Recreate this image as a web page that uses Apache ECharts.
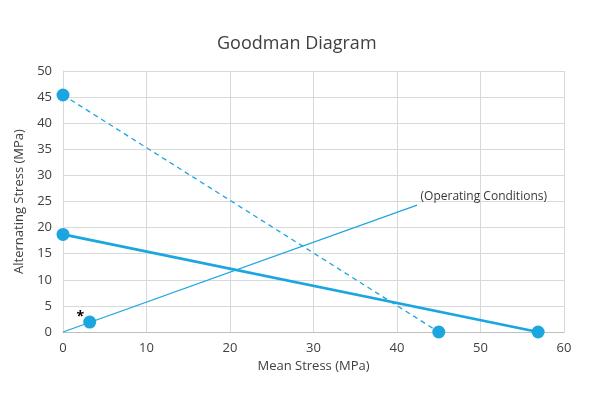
<!DOCTYPE html>
<html><head><meta charset="utf-8">
<script src="https://cdn.jsdelivr.net/npm/echarts@6/dist/echarts.min.js"></script>
<style>html,body{margin:0;padding:0;background:#fff}#c{width:600px;height:395px}</style>
</head><body><div id="c"></div>
<script>
const goodmanLine = [[0, 18.7], [56.9, 0]];
const yieldLine = [[0, 45.4], [45, 0]];
const operatingLine = [[0, 0], [42.4, 24.3]];
const operatingPoint = [[3.2, 1.9]];
const xTicks = {min: 0, max: 60, interval: 10};
const yTicks = {min: 0, max: 50, interval: 5};
const color = '#1ba6e0';
const font = 'Open Sans';
const chart = echarts.init(document.getElementById('c'));
chart.setOption({
  animation: false,
  title: {text: 'Goodman Diagram', left: 212, top: 30, textStyle: {fontFamily: font, fontWeight: 'normal', fontSize: 18, color: '#404040'}},
  grid: {left: 63, right: 36, top: 71, bottom: 63},
  xAxis: {type: 'value', min: xTicks.min, max: xTicks.max, interval: xTicks.interval,
    name: 'Mean Stress (MPa)', nameLocation: 'middle', nameGap: 28,
    nameTextStyle: {fontFamily: font, fontSize: 13, color: '#404040'},
    axisLine: {lineStyle: {color: '#bfbfbf'}}, axisTick: {show: false},
    axisLabel: {fontFamily: font, fontSize: 13, color: '#404040', margin: 10},
    splitLine: {show: true, lineStyle: {color: '#d9d9d9'}}},
  yAxis: {type: 'value', min: yTicks.min, max: yTicks.max, interval: yTicks.interval,
    name: 'Alternating Stress (MPa)', nameLocation: 'middle', nameGap: 25,
    nameTextStyle: {fontFamily: font, fontSize: 13, color: '#404040'},
    axisLine: {show: true, lineStyle: {color: '#d9d9d9'}}, axisTick: {show: false},
    axisLabel: {fontFamily: font, fontSize: 13, color: '#404040', margin: 11},
    splitLine: {show: true, lineStyle: {color: '#d9d9d9'}}},
  series: [
    {type: 'line', data: yieldLine, symbol: 'circle', symbolSize: 13, itemStyle: {color: color},
      lineStyle: {color: color, width: 1.3, type: [5, 4]}},
    {type: 'line', data: goodmanLine, symbol: 'circle', symbolSize: 13, itemStyle: {color: color},
      lineStyle: {color: color, width: 2.8}},
    {type: 'line', data: operatingLine, symbol: 'none', lineStyle: {color: color, width: 1.3}},
    {type: 'scatter', data: [operatingLine[1]], symbolSize: 1, itemStyle: {color: 'rgba(0,0,0,0)'},
      label: {show: true, position: 'right', offset: [-2, -9], formatter: '(Operating Conditions)',
        fontFamily: font, fontSize: 12, color: '#000'}},
    {type: 'scatter', data: operatingPoint, symbol: 'circle', symbolSize: 13, itemStyle: {color: color, opacity: 1},
      label: {show: true, position: 'left', offset: [6, -5], formatter: '*', fontFamily: font, fontSize: 14, fontWeight: 'bold', color: '#000'}}
  ]
});
</script></body></html>
